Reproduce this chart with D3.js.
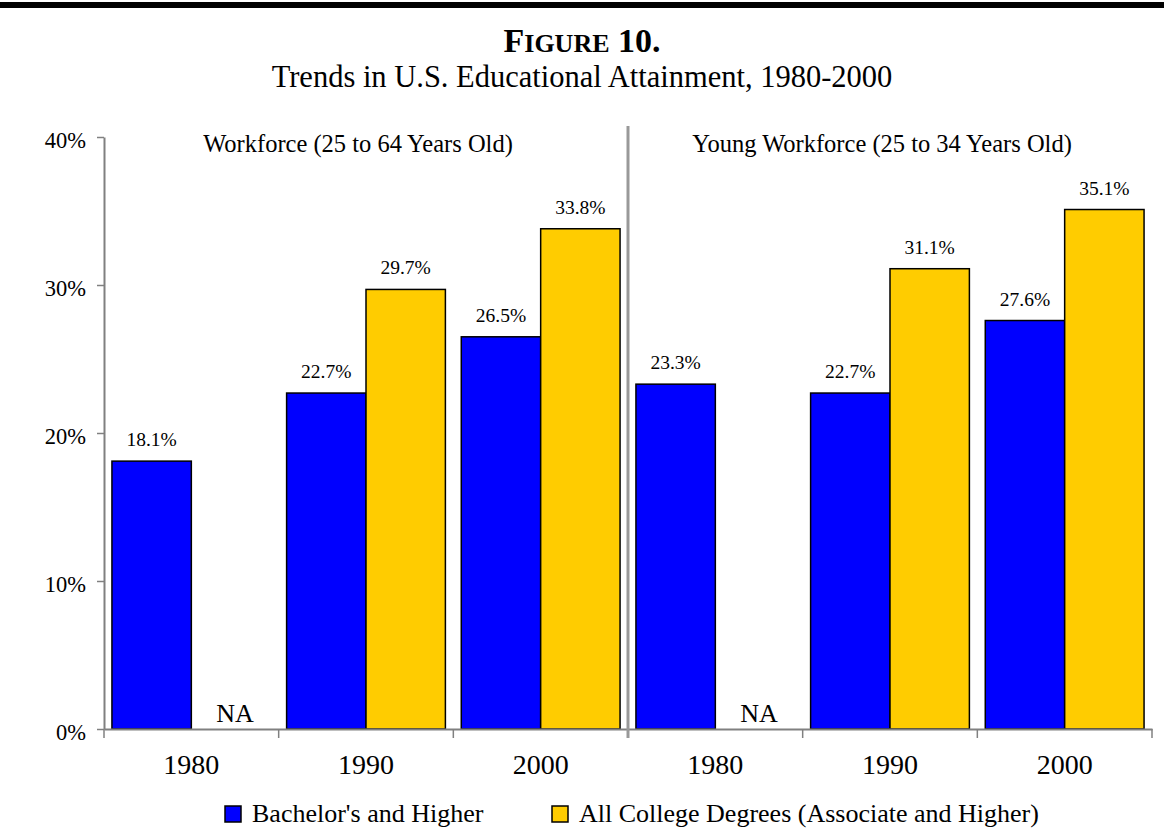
<!DOCTYPE html>
<html>
<head>
<meta charset="utf-8">
<script src="https://cdn.jsdelivr.net/npm/d3@7"></script>
<style>
  body { margin: 0; background: #fff; }
  svg { display: block; font-family: "Liberation Serif", "Times New Roman", serif; }
</style>
</head>
<body>
<div class="chart"></div>
<script>
// data
var panels = ['Workforce (25 to 64 Years Old)', 'Young Workforce (25 to 34 Years Old)'];
var years = ['1980', '1990', '2000'];
var bachelor = [18.1, 22.7, 26.5, 23.3, 22.7, 27.6];
var allDegrees = [null, 29.7, 33.8, null, 31.1, 35.1];
var seriesNames = ["Bachelor's and Higher", 'All College Degrees (Associate and Higher)'];
var seriesColors = ['#0000ff', '#ffcc00'];
var yTicks = [0, 10, 20, 30, 40];

var fullWidth = 1164;
var fullHeight = 832;
var margin = { top: 137, right: 12, bottom: 103, left: 104 };
var width = fullWidth - margin.left - margin.right;
var height = fullHeight - margin.top - margin.bottom;

var groups = [];
panels.forEach(function (p, pi) {
    years.forEach(function (yr, yi) {
        var i = pi * years.length + yi;
        groups.push({ key: pi + '-' + yr, year: yr, values: [bachelor[i], allDegrees[i]] });
    });
});

var svg = d3.select('.chart')
    .append('svg')
    .attr('width', fullWidth)
    .attr('height', fullHeight);

// top rule
svg.append('rect')
    .attr('x', 0).attr('y', 2)
    .attr('width', fullWidth).attr('height', 6)
    .attr('fill', '#000');

var title = svg.append('text')
    .attr('x', fullWidth / 2).attr('y', 52)
    .attr('text-anchor', 'middle')
    .attr('font-weight', 'bold');
title.append('tspan').attr('font-size', 34).text('F');
title.append('tspan').attr('font-size', 26).text('IGURE');
title.append('tspan').attr('font-size', 34).text(' 10.');

svg.append('text')
    .attr('x', fullWidth / 2).attr('y', 87)
    .attr('text-anchor', 'middle')
    .attr('font-size', 30.5)
    .text('Trends in U.S. Educational Attainment, 1980-2000');

var g = svg.append('g')
    .attr('transform', 'translate(' + margin.left + ',' + margin.top + ')');

var x = d3.scaleBand()
    .domain(groups.map(function (d) { return d.key; }))
    .range([0, width])
    .paddingInner(0)
    .paddingOuter(0);

var xInner = d3.scaleBand()
    .domain([0, 1])
    .range([0, x.bandwidth()])
    .paddingOuter(0.1)
    .paddingInner(0);

var y = d3.scaleLinear()
    .domain([0, 40])
    .range([height, 0]);

// bars
var group = g.selectAll('.group')
    .data(groups)
    .enter().append('g')
    .attr('class', 'group')
    .attr('transform', function (d) { return 'translate(' + x(d.key) + ',0)'; });

group.selectAll('rect')
    .data(function (d) { return d.values.map(function (v, i) { return { v: v, s: i }; }).filter(function (d) { return d.v != null; }); })
    .enter().append('rect')
    .attr('x', function (d) { return xInner(d.s); })
    .attr('width', xInner.bandwidth())
    .attr('y', function (d) { return y(d.v); })
    .attr('height', function (d) { return height - y(d.v); })
    .attr('fill', function (d) { return seriesColors[d.s]; })
    .attr('stroke', '#000')
    .attr('stroke-width', 1.5);

group.selectAll('.val')
    .data(function (d) { return d.values.map(function (v, i) { return { v: v, s: i }; }); })
    .enter().append('text')
    .attr('class', 'val')
    .attr('x', function (d) { return xInner(d.s) + xInner.bandwidth() / 2 + (d.v == null ? 4 : 0); })
    .attr('y', function (d) { return d.v == null ? height - 7 : y(d.v) - 15; })
    .attr('text-anchor', 'middle')
    .attr('font-size', function (d) { return d.v == null ? 26 : 19.5; })
    .text(function (d) { return d.v == null ? 'NA' : d.v.toFixed(1) + '%'; });

// y axis
var yAxis = d3.axisLeft(y)
    .tickValues(yTicks)
    .tickFormat(function (d) { return d + '%'; })
    .tickSizeInner(7)
    .tickSizeOuter(0)
    .tickPadding(11);

var ya = g.append('g').call(yAxis);
ya.select('.domain').attr('stroke', '#808080').attr('stroke-width', 2);
ya.selectAll('.tick line').attr('stroke', '#808080').attr('stroke-width', 1.5);
ya.selectAll('.tick text')
    .attr('font-family', '"Liberation Serif", serif')
    .attr('font-size', 22.5)
    .attr('dy', '0.45em')
    .attr('fill', '#000');

// x axis
var xAxis = d3.axisBottom(x)
    .tickFormat(function (k) { return k.split('-')[1]; })
    .tickSize(0);

var xa = g.append('g')
    .attr('transform', 'translate(0,' + height + ')')
    .call(xAxis);
xa.select('.domain').attr('stroke', '#808080').attr('stroke-width', 2);
xa.selectAll('.tick text')
    .attr('font-family', '"Liberation Serif", serif')
    .attr('font-size', 28)
    .attr('y', 45)
    .attr('dy', 0)
    .attr('fill', '#000');

// tick marks between categories
var bounds = groups.map(function (d) { return x(d.key); }).concat([width]);
g.selectAll('.xtick')
    .data(bounds)
    .enter().append('line')
    .attr('class', 'xtick')
    .attr('x1', function (d) { return d; })
    .attr('x2', function (d) { return d; })
    .attr('y1', height)
    .attr('y2', height + 9)
    .attr('stroke', '#808080')
    .attr('stroke-width', 1.5);

// panel separator
var sepX = x(groups[years.length].key);
g.append('line')
    .attr('x1', sepX).attr('x2', sepX)
    .attr('y1', -11).attr('y2', height + 9)
    .attr('stroke', '#999')
    .attr('stroke-width', 3);

// panel labels
g.selectAll('.panel')
    .data(panels)
    .enter().append('text')
    .attr('class', 'panel')
    .attr('x', function (d, i) {
        var first = x(groups[i * years.length].key);
        return first + x.bandwidth() * years.length / 2 - 8;
    })
    .attr('y', 15)
    .attr('text-anchor', 'middle')
    .attr('font-size', 24.5)
    .text(function (d) { return d; });

// legend
var legendX = [225, 552];
var legend = svg.selectAll('.legend')
    .data(seriesNames)
    .enter().append('g')
    .attr('class', 'legend')
    .attr('transform', function (d, i) { return 'translate(' + legendX[i] + ',806)'; });

legend.append('rect')
    .attr('width', 16).attr('height', 16)
    .attr('fill', function (d, i) { return seriesColors[i]; })
    .attr('stroke', '#000')
    .attr('stroke-width', 1.5);

legend.append('text')
    .attr('x', 27).attr('y', 16)
    .attr('font-size', 26)
    .text(function (d) { return d; });
</script>
</body>
</html>
